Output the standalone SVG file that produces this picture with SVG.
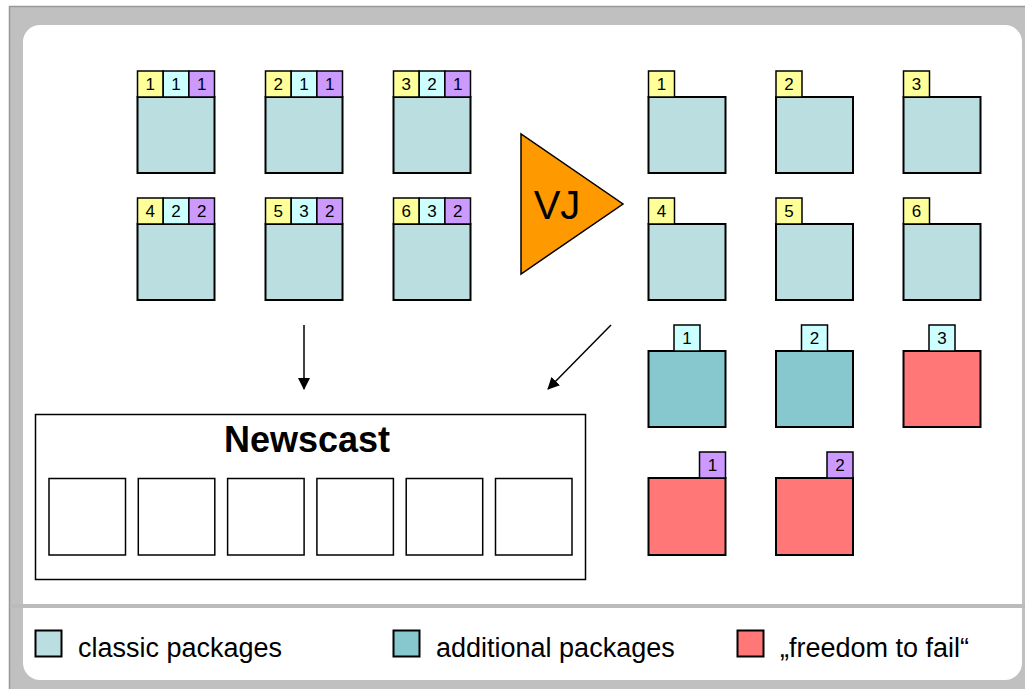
<svg xmlns="http://www.w3.org/2000/svg" width="1025" height="689" viewBox="0 0 1025 689">
  <defs>
    <marker id="arrow" viewBox="0 0 12 12" refX="11" refY="6" markerWidth="12" markerHeight="12" markerUnits="userSpaceOnUse" orient="auto">
      <path d="M0,0 L12,6 L0,12 Z" fill="#000"/>
    </marker>
  </defs>
  <style>
    .box { stroke: #000; stroke-width: 2; }
    .tag { stroke: #000; stroke-width: 1.5; }
    .classic { fill: #BBDFE1; }
    .additional { fill: #86C8CD; }
    .fail { fill: #FF7777; }
    .yellow { fill: #FFFF99; }
    .cyan { fill: #CCFFFF; }
    .purple { fill: #CC99FF; }
    .num { font-family: "Liberation Sans", Arial, sans-serif; font-size: 17px; fill: #000; text-anchor: middle; }
    .legend { font-family: "Liberation Sans", Arial, sans-serif; font-size: 27px; fill: #000; }
    .slot { fill: #fff; stroke: #000; stroke-width: 1.5; }
  </style>

  <!-- frame -->
  <rect x="9.5" y="6.5" width="1030" height="700" fill="#C0C0C0" stroke="#999999" stroke-width="1.5"/>
  <rect x="23" y="25" width="999" height="655" rx="17" fill="#FFFFFF"/>
  <rect x="10" y="604" width="1015" height="4" fill="#BBBBBB"/>

  <!-- combined packages (left grid) -->
  <g id="pkg-1-1-1">
    <rect class="box classic" x="137.5" y="97" width="77" height="76"/>
    <rect class="tag yellow" x="137.5" y="71" width="25.7" height="26"/>
    <rect class="tag cyan" x="163.2" y="71" width="25.7" height="26"/>
    <rect class="tag purple" x="188.9" y="71" width="25.6" height="26"/>
    <text class="num" x="150.3" y="90">1</text>
    <text class="num" x="176" y="90">1</text>
    <text class="num" x="201.7" y="90">1</text>
  </g>
  <g id="pkg-2-1-1">
    <rect class="box classic" x="265.5" y="97" width="77" height="76"/>
    <rect class="tag yellow" x="265.5" y="71" width="25.7" height="26"/>
    <rect class="tag cyan" x="291.2" y="71" width="25.7" height="26"/>
    <rect class="tag purple" x="316.9" y="71" width="25.6" height="26"/>
    <text class="num" x="278.3" y="90">2</text>
    <text class="num" x="304" y="90">1</text>
    <text class="num" x="329.7" y="90">1</text>
  </g>
  <g id="pkg-3-2-1">
    <rect class="box classic" x="393.5" y="97" width="77" height="76"/>
    <rect class="tag yellow" x="393.5" y="71" width="25.7" height="26"/>
    <rect class="tag cyan" x="419.2" y="71" width="25.7" height="26"/>
    <rect class="tag purple" x="444.9" y="71" width="25.6" height="26"/>
    <text class="num" x="406.3" y="90">3</text>
    <text class="num" x="432" y="90">2</text>
    <text class="num" x="457.7" y="90">1</text>
  </g>
  <g id="pkg-4-2-2">
    <rect class="box classic" x="137.5" y="224" width="77" height="76"/>
    <rect class="tag yellow" x="137.5" y="198" width="25.7" height="26"/>
    <rect class="tag cyan" x="163.2" y="198" width="25.7" height="26"/>
    <rect class="tag purple" x="188.9" y="198" width="25.6" height="26"/>
    <text class="num" x="150.3" y="217">4</text>
    <text class="num" x="176" y="217">2</text>
    <text class="num" x="201.7" y="217">2</text>
  </g>
  <g id="pkg-5-3-2">
    <rect class="box classic" x="265.5" y="224" width="77" height="76"/>
    <rect class="tag yellow" x="265.5" y="198" width="25.7" height="26"/>
    <rect class="tag cyan" x="291.2" y="198" width="25.7" height="26"/>
    <rect class="tag purple" x="316.9" y="198" width="25.6" height="26"/>
    <text class="num" x="278.3" y="217">5</text>
    <text class="num" x="304" y="217">3</text>
    <text class="num" x="329.7" y="217">2</text>
  </g>
  <g id="pkg-6-3-2">
    <rect class="box classic" x="393.5" y="224" width="77" height="76"/>
    <rect class="tag yellow" x="393.5" y="198" width="25.7" height="26"/>
    <rect class="tag cyan" x="419.2" y="198" width="25.7" height="26"/>
    <rect class="tag purple" x="444.9" y="198" width="25.6" height="26"/>
    <text class="num" x="406.3" y="217">6</text>
    <text class="num" x="432" y="217">3</text>
    <text class="num" x="457.7" y="217">2</text>
  </g>

  <!-- VJ -->
  <g id="vj">
    <polygon points="521,134 521,274 623,204" fill="#FF9900" stroke="#000" stroke-width="1.5"/>
    <text x="557" y="219" font-family="Liberation Sans, Arial, sans-serif" font-size="40" text-anchor="middle" fill="#000">VJ</text>
  </g>

  <!-- classic packages (right grid) -->
  <g id="classic-1">
    <rect class="box classic" x="648.5" y="97" width="77" height="76"/>
    <rect class="tag yellow" x="648.5" y="71" width="26" height="26"/>
    <text class="num" x="661.5" y="90">1</text>
  </g>
  <g id="classic-2">
    <rect class="box classic" x="776" y="97" width="77" height="76"/>
    <rect class="tag yellow" x="776" y="71" width="26" height="26"/>
    <text class="num" x="789" y="90">2</text>
  </g>
  <g id="classic-3">
    <rect class="box classic" x="903.5" y="97" width="77" height="76"/>
    <rect class="tag yellow" x="903.5" y="71" width="26" height="26"/>
    <text class="num" x="916.5" y="90">3</text>
  </g>
  <g id="classic-4">
    <rect class="box classic" x="648.5" y="224" width="77" height="76"/>
    <rect class="tag yellow" x="648.5" y="198" width="26" height="26"/>
    <text class="num" x="661.5" y="217">4</text>
  </g>
  <g id="classic-5">
    <rect class="box classic" x="776" y="224" width="77" height="76"/>
    <rect class="tag yellow" x="776" y="198" width="26" height="26"/>
    <text class="num" x="789" y="217">5</text>
  </g>
  <g id="classic-6">
    <rect class="box classic" x="903.5" y="224" width="77" height="76"/>
    <rect class="tag yellow" x="903.5" y="198" width="26" height="26"/>
    <text class="num" x="916.5" y="217">6</text>
  </g>

  <!-- additional packages -->
  <g id="additional-1">
    <rect class="box additional" x="648.5" y="351" width="77" height="76"/>
    <rect class="tag cyan" x="674" y="325" width="26" height="26"/>
    <text class="num" x="687" y="344">1</text>
  </g>
  <g id="additional-2">
    <rect class="box additional" x="776" y="351" width="77" height="76"/>
    <rect class="tag cyan" x="801.5" y="325" width="26" height="26"/>
    <text class="num" x="814.5" y="344">2</text>
  </g>
  <g id="additional-3">
    <rect class="box fail" x="903.5" y="351" width="77" height="76"/>
    <rect class="tag cyan" x="929" y="325" width="26" height="26"/>
    <text class="num" x="942" y="344">3</text>
  </g>

  <!-- freedom to fail -->
  <g id="fail-1">
    <rect class="box fail" x="648.5" y="478" width="77" height="77"/>
    <rect class="tag purple" x="699.5" y="452" width="26" height="26"/>
    <text class="num" x="712.5" y="471">1</text>
  </g>
  <g id="fail-2">
    <rect class="box fail" x="776" y="478" width="77" height="77"/>
    <rect class="tag purple" x="827" y="452" width="26" height="26"/>
    <text class="num" x="840" y="471">2</text>
  </g>

  <!-- newscast -->
  <g id="newscast">
    <rect x="35.5" y="414.5" width="550" height="165" fill="#fff" stroke="#000" stroke-width="1.5"/>
    <text x="307" y="452" font-family="Liberation Sans, Arial, sans-serif" font-size="36" font-weight="bold" text-anchor="middle" fill="#000">Newscast</text>
    <rect class="slot" x="49" y="478.5" width="76.5" height="76.5"/>
    <rect class="slot" x="138.3" y="478.5" width="76.5" height="76.5"/>
    <rect class="slot" x="227.6" y="478.5" width="76.5" height="76.5"/>
    <rect class="slot" x="316.9" y="478.5" width="76.5" height="76.5"/>
    <rect class="slot" x="406.2" y="478.5" width="76.5" height="76.5"/>
    <rect class="slot" x="495.5" y="478.5" width="76.5" height="76.5"/>
  </g>

  <!-- connectors -->
  <g id="connectors" stroke="#000" stroke-width="1.5" fill="none">
    <line x1="304" y1="325" x2="304" y2="389" marker-end="url(#arrow)"/>
    <line x1="611" y1="325" x2="548" y2="389" marker-end="url(#arrow)"/>
  </g>

  <!-- legend -->
  <g id="legend-classic">
    <rect class="box classic" x="35.5" y="630.5" width="26" height="26" stroke-width="1.5"/>
    <text class="legend" x="78" y="657">classic packages</text>
  </g>
  <g id="legend-additional">
    <rect class="box additional" x="393.5" y="630.5" width="26" height="26" stroke-width="1.5"/>
    <text class="legend" x="436" y="657">additional packages</text>
  </g>
  <g id="legend-fail">
    <rect class="box fail" x="737.5" y="630.5" width="26" height="26" stroke-width="1.5"/>
    <text class="legend" x="780" y="657">„freedom to fail“</text>
  </g>
</svg>
